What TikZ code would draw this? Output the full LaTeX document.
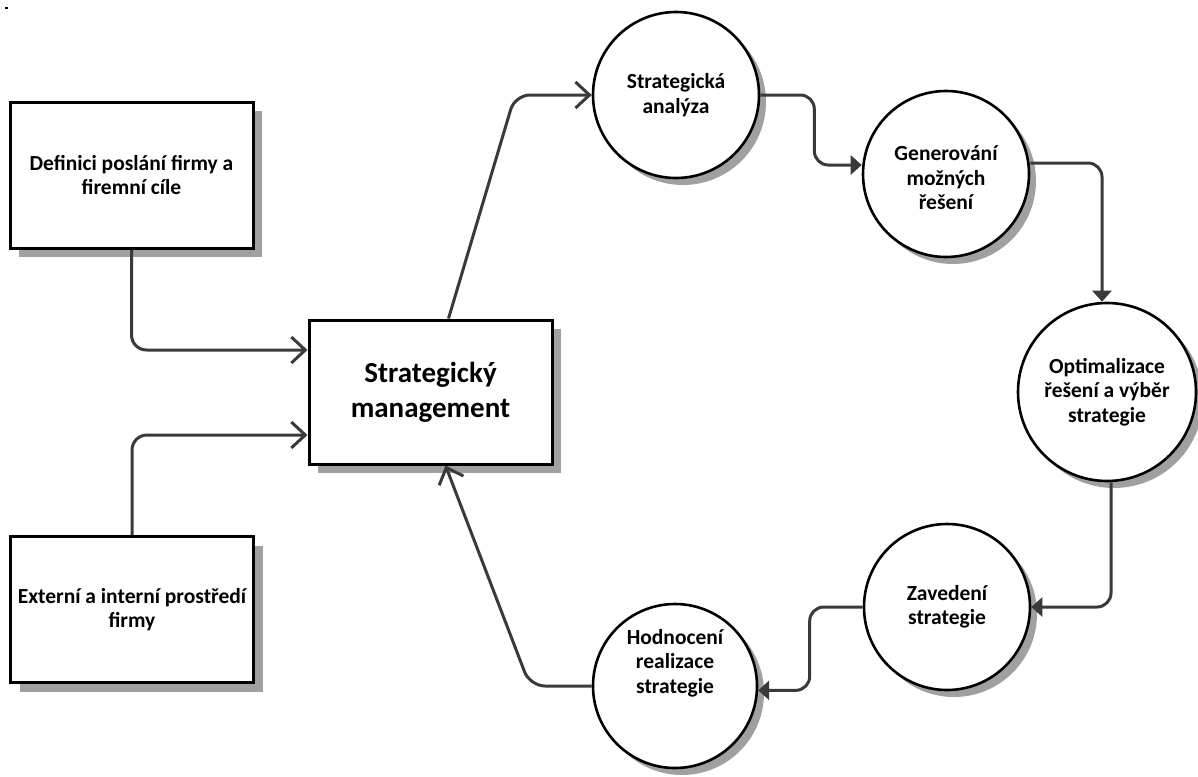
\documentclass[tikz,border=0pt]{standalone}
\usepackage{fontspec}
\setmainfont{Carlito}
\usetikzlibrary{arrows.meta,shadows,positioning}
\definecolor{shade}{RGB}{160,160,160}
\definecolor{wire}{RGB}{58,58,58}
\tikzset{
  txt/.style={font=\bfseries\fontsize{21.5}{24.5}\selectfont, align=center, text=black},
  sqbox/.style={draw=black, line width=3pt, fill=white, rectangle, minimum width=243pt, minimum height=146pt, inner sep=0pt,
    drop shadow={shadow xshift=9pt, shadow yshift=-9pt, fill=shade, opacity=1}},
  stage/.style={draw=black, line width=2.6pt, fill=white, circle, inner sep=0pt,
    drop shadow={shadow xshift=7pt, shadow yshift=-7pt, fill=shade, opacity=1}},
  feed/.style={draw=wire, line width=3pt, rounded corners=15pt,
    -{Straight Barb[length=14pt,width=26pt,line width=3pt]}},
  flow/.style={draw=wire, line width=3pt, rounded corners=14pt,
    -{Triangle[length=11pt,width=19pt]}}
}
\begin{document}
\begin{tikzpicture}[x=1pt, y=-1pt]
\useasboundingbox (0,0) rectangle (1198,776);
\fill (5,7) rectangle (8,9);

% input boxes and the central box
\node[sqbox, txt] (A) at (131.5,175) {Definici poslání firmy a\\firemní cíle};
\node[sqbox, txt] (B) at (132,609.5) {Externí a interní prostředí\\firmy};
\node[sqbox, minimum height=144pt, font=\bfseries\fontsize{29}{35}\selectfont, align=center] (M) at (430.5,392) {Strategický\\management};

% the cycle of stages
\node[stage, minimum size=166pt, txt] (C1) at (676,95) {Strategická\\analýza};
\node[stage, minimum size=166pt] (C2) at (946,174) {};
\node[txt] (C2t) at ([yshift=-4pt]C2.center) {Generování\\možných\\řešení};
\node[stage, minimum size=178pt, txt] (C3) at (1107,392) {Optimalizace\\řešení a výběr\\strategie};
\node[stage, minimum size=166pt, txt] (C4) at (947,607) {Zavedení\\strategie};
\node[stage, minimum size=164pt] (C5) at (675,686) {};
\node[txt] (C5t) at ([yshift=23pt]C5.center) {Hodnocení\\realizace\\strategie};

% inputs into the central box
\draw[feed] (A.south) |- ([yshift=42pt]M.west);
\draw[feed] (B.north) |- ([yshift=-43pt]M.west);

% out of and back into the central box
\draw[feed] ([xshift=18pt]M.north) -- (515,95) -- (C1.west);
\draw[feed] (C5.west) -- (530,686) -- ([xshift=15pt]M.south);

% links between the stages
\draw[flow] (C1.east) -- ++(54,0) |- ([yshift=9pt]C2.west);
\draw[flow] ([yshift=11pt]C2.east) -| ([xshift=-5pt]C3.north);
\draw[flow] ([xshift=4pt]C3.south) |- (C4.east);
\draw[flow] (C4.west) -- ++(-53,0) |- (C5.-3);
\end{tikzpicture}
\end{document}
